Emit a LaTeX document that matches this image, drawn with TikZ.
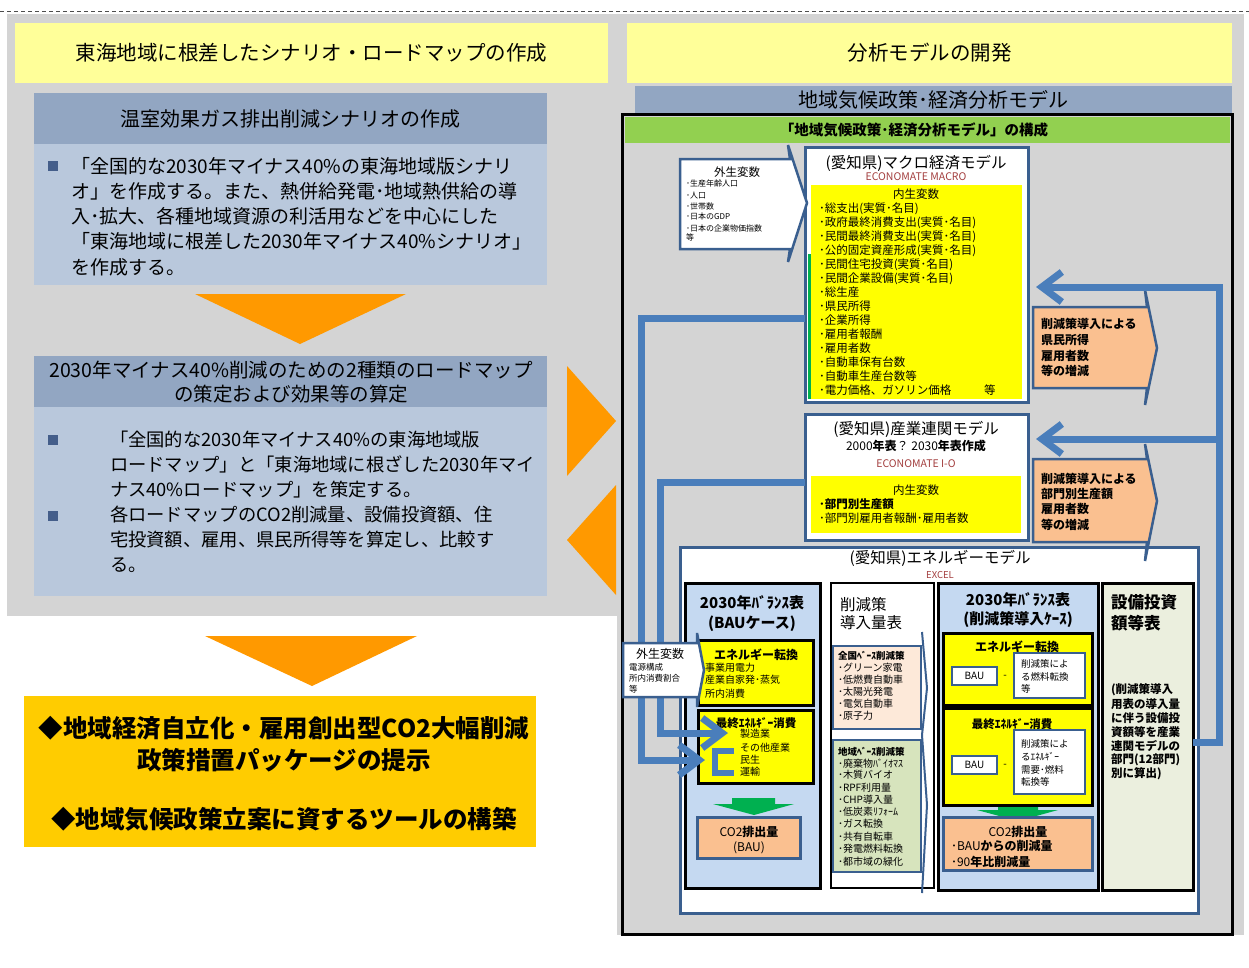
\documentclass[tikz,border=0pt]{standalone}
\usepackage{fontspec}
\setmainfont{Noto Sans CJK JP}
\usetikzlibrary{arrows.meta}
\definecolor{bgray}{RGB}{212,212,212}
\definecolor{ltyellow}{RGB}{255,255,153}
\definecolor{hdblue}{RGB}{146,166,194}
\definecolor{bdblue}{RGB}{185,200,220}
\definecolor{bulletblue}{RGB}{68,94,138}
\definecolor{orng}{RGB}{255,153,0}
\definecolor{gold}{RGB}{255,204,0}
\definecolor{dkblue}{RGB}{58,95,143}
\definecolor{connblue}{RGB}{74,126,187}
\definecolor{hgreen}{RGB}{146,208,80}
\definecolor{yel}{RGB}{255,255,0}
\definecolor{gline}{RGB}{0,176,80}
\definecolor{peach}{RGB}{250,192,144}
\definecolor{redbrown}{RGB}{163,62,62}
\definecolor{ltblueb}{RGB}{197,217,241}
\definecolor{ltpeach}{RGB}{253,233,217}
\definecolor{ltgreenb}{RGB}{215,228,189}
\definecolor{cream}{RGB}{235,239,222}
\newcounter{tn}
\newcommand\fsz[1]{\fontsize{#1}{#1}\selectfont\rule[-0.12em]{0pt}{1em}}
\newcommand\mybox[7]{\node[bx,#6,minimum width={#3-#1},minimum height={#4-#2}] (#5) at ({(#1+#3)/2},{(#2+#4)/2}) {#7};}
\newcommand\tx[4][]{\stepcounter{tn}\node[tx,anchor=west,#1] (t\arabic{tn}) at (#2,#3) {#4};}
\begin{document}
\begin{tikzpicture}[x=1pt,y=-1pt,
  bx/.style={inner sep=0pt,outer sep=0pt},
  tx/.style={inner sep=0pt,outer sep=0pt},
  conn/.style={draw=connblue,line width=7pt},
  arr/.style={-{Straight Barb[length=20pt,width=30pt]}},
  bluebox/.style={fill=white,draw=dkblue,line width=3pt},
  blackbox/.style={draw=black,line width=3pt},
  ybox/.style={fill=yel,draw=black,line width=3pt},
  co2box/.style={fill=peach,draw=dkblue,line width=3pt},
  wbox/.style={fill=white,draw=dkblue,line width=2pt},
  sq/.style={fill=bulletblue,minimum size=10pt,inner sep=0pt}]
\useasboundingbox (0,0) rectangle (1249,967);
\fill[white] (0,0) rectangle (1249,967);
\draw[gray!60!black,line width=0.8pt,dash pattern=on 4pt off 3pt] (0,11) -- (1249,11);
% gray panels
\mybox{7}{14}{617}{616}{pL}{fill=bgray}{}
\mybox{617}{14}{1244}{935}{pR}{fill=bgray}{}
% headers
\mybox{15}{23}{608}{83}{hL}{fill=ltyellow,font=\fsz{20.5}}{東海地域に根差したシナリオ・ロードマップの作成}
\mybox{627}{23}{1232}{83}{hR}{fill=ltyellow,font=\fsz{20.5}}{分析モデルの開発}
% left block 1
\mybox{34}{93}{547}{144}{s1h}{fill=hdblue,font=\fsz{20}}{温室効果ガス排出削減シナリオの作成}
\mybox{34}{144}{547}{285}{s1b}{fill=bdblue}{}
\node[sq] (q1) at (53,166) {};
\foreach \s [count=\i] in {{「全国的な2030年マイナス40\%の東海地域版シナリ},{オ」を作成する。また、熱併給発電･地域熱供給の導},{入･拡大、各種地域資源の利活用などを中心にした},{「東海地域に根差した2030年マイナス40\%シナリオ」},{を作成する。}}
  \node[tx,anchor=west,font=\fsz{19}] (pa\i) at (71,{166+25.2*(\i-1)}) {\s};
\fill[orng] (195,294) -- (406,294) -- (300,344) -- cycle;
% left block 2
\mybox{34}{356}{547}{407}{s2h}{fill=hdblue}{}
\tx[anchor=center,font=\fsz{19.5}]{291}{370}{2030年マイナス40\%削減のための2種類のロードマップ}
\tx[anchor=center,font=\fsz{19.5}]{291}{394}{の策定および効果等の算定}
\mybox{34}{407}{547}{596}{s2b}{fill=bdblue}{}
\node[sq] (q2) at (53,440) {};
\node[sq] (q3) at (53,516) {};
\foreach \s [count=\i] in {{「全国的な2030年マイナス40\%の東海地域版},{ロードマップ」と「東海地域に根ざした2030年マイ},{ナス40\%ロードマップ」を策定する。},{各ロードマップのCO2削減量、設備投資額、住},{宅投資額、雇用、県民所得等を算定し、比較す},{る。}}
  \node[tx,anchor=west,font=\fsz{18.3}] (pb\i) at (110,{440+25*(\i-1)}) {\s};
\fill[orng] (567,366) -- (616,421) -- (567,476) -- cycle;
\fill[orng] (616,485) -- (567,540) -- (616,595) -- cycle;
\fill[orng] (205,636) -- (417,636) -- (312,686) -- cycle;
\mybox{24}{696}{536}{847}{goal}{fill=gold}{}
\tx[anchor=center,font=\bfseries\fsz{24.5}]{284}{728}{◆地域経済自立化・雇用創出型CO2大幅削減}
\tx[anchor=center,font=\bfseries\fsz{24.5}]{284}{760}{政策措置パッケージの提示}
\tx[anchor=center,font=\bfseries\fsz{24.5}]{284}{819}{◆地域気候政策立案に資するツールの構築}
% right panel
\mybox{635}{86}{1232}{113}{mhdr}{fill=hdblue,font=\fsz{20}}{地域気候政策･経済分析モデル}
\mybox{622}{114}{1232}{934}{frame}{blackbox}{}
\mybox{625}{117}{1230}{143}{ghdr}{fill=hgreen}{}
\tx[anchor=center,font=\bfseries\fsz{14.5}]{914}{130}{「地域気候政策･経済分析モデル」の構成}
% macro model
\mybox{805}{147}{1028}{402}{macro}{bluebox}{}
\mybox{811}{185}{1022}{399}{macroy}{fill=yel}{}
\draw[gline,line width=3pt] (809.5,254) -- (809.5,399);
\tx[anchor=center,font=\fsz{15.5}]{916}{163}{(愛知県)マクロ経済モデル}
\tx[anchor=center,font=\fsz{10.5},text=redbrown]{916}{177}{ECONOMATE MACRO}
\tx[anchor=center,font=\fsz{11.5}]{916}{194}{内生変数}
\foreach \s [count=\i] in {{･総支出(実質･名目)},{･政府最終消費支出(実質･名目)},{･民間最終消費支出(実質･名目)},{･公的固定資産形成(実質･名目)},{･民間住宅投資(実質･名目)},{･民間企業設備(実質･名目)},{･総生産},{･県民所得},{･企業所得},{･雇用者報酬},{･雇用者数},{･自動車保有台数},{･自動車生産台数等},{･電力価格、ガソリン価格}}
  \node[tx,anchor=west,font=\fsz{11.5}] (mi\i) at (819,{209+13.92*(\i-1)}) {\s};
\tx[font=\fsz{11.5}]{984}{390}{等}
% exogenous 1
\draw[dkblue,line width=2.5pt,fill=white] (680,159) -- (790,159) -- (788,145) -- (807,203) -- (788,262) -- (790,249) -- (680,249) -- cycle;
\tx[anchor=center,font=\fsz{11.5}]{737}{172}{外生変数}
\foreach \s/\yy [count=\i] in {{･生産年齢人口}/183,{･人口}/195,{･世帯数}/206,{･日本のGDP}/216,{･日本の企業物価指数}/228,{等}/237}
  \node[tx,anchor=west,font=\fsz{8}] (ex\i) at (686,\yy) {\s};
% IO model
\mybox{805}{414}{1028}{540}{io}{bluebox}{}
\mybox{811}{476}{1021}{533}{ioy}{fill=yel}{}
\tx[anchor=center,font=\fsz{15.5}]{916}{429}{(愛知県)産業連関モデル}
\tx[anchor=center,font=\fsz{12}]{916}{446}{2000{\bfseries 年表}？ 2030{\bfseries 年表作成}}
\tx[anchor=center,font=\fsz{10.5},text=redbrown]{916}{463}{ECONOMATE I-O}
\tx[anchor=center,font=\fsz{11.5}]{916}{490}{内生変数}
\tx[font=\bfseries\fsz{11.5}]{819}{504}{･部門別生産額}
\tx[font=\fsz{11.5}]{819}{518}{･部門別雇用者報酬･雇用者数}
% energy model
\mybox{680}{547}{1198}{913}{energy}{bluebox}{}
\tx[anchor=center,font=\fsz{15.5}]{940}{558}{(愛知県)エネルギーモデル}
\tx[anchor=center,font=\fsz{9.5},text=redbrown]{940}{575}{EXCEL}
% column A
\mybox{685}{583}{820}{888}{colA}{fill=ltblueb,blackbox}{}
\tx[anchor=center,font=\bfseries\fsz{15}]{752}{603}{2030年ﾊﾞﾗﾝｽ表}
\tx[anchor=center,font=\bfseries\fsz{15}]{752}{623}{(BAUケース)}
\mybox{698}{640}{813}{705}{convA}{ybox}{}
\tx[anchor=center,font=\bfseries\fsz{12}]{756}{655}{エネルギー転換}
\tx[font=\fsz{10}]{705}{668}{事業用電力}
\tx[font=\fsz{10}]{705}{680}{産業自家発･蒸気}
\tx[font=\fsz{10}]{705}{694}{所内消費}
\fill[gline] (732,798) -- (775,798) -- (775,804) -- (794,804) -- (754,815) -- (713,804) -- (732,804) -- cycle;
\mybox{698}{710}{813}{783}{finA}{ybox}{}
\tx[anchor=center,font=\bfseries\fsz{11.5}]{756}{723}{最終ｴﾈﾙｷﾞｰ消費}
\tx[font=\fsz{10}]{740}{734}{製造業}
\tx[font=\fsz{10}]{740}{748}{その他産業}
\tx[font=\fsz{10}]{740}{760}{民生}
\tx[font=\fsz{10}]{740}{772}{運輸}
\mybox{697}{817}{800}{858}{co2A}{co2box}{}
\tx[anchor=center,font=\fsz{12}]{749}{832}{CO2{\bfseries 排出量}}
\tx[anchor=center,font=\fsz{12}]{749}{847}{(BAU)}
% column B
\mybox{831}{583}{934}{888}{colB}{fill=white,draw=black,line width=2.5pt}{}
\tx[font=\fsz{15.5}]{840}{605}{削減策}
\tx[font=\fsz{15.5}]{840}{623}{導入量表}
\mybox{833}{646}{921}{729}{natB}{fill=ltpeach,draw=dkblue,line width=1.5pt}{}
\tx[font=\bfseries\fsz{9.5}]{838}{656}{全国ﾍﾞｰｽ削減策}
\foreach \s [count=\i] in {{･グリーン家電},{･低燃費自動車},{･太陽光発電},{･電気自動車},{･原子力}}
  \node[tx,anchor=west,font=\fsz{10}] (nb\i) at (838,{668+12*(\i-1)}) {\s};
\mybox{833}{740}{921}{872}{locB}{fill=ltgreenb,draw=dkblue,line width=1.5pt}{}
\tx[font=\bfseries\fsz{9.5}]{838}{752}{地域ﾍﾞｰｽ削減策}
\foreach \s/\yy [count=\i] in {{･廃棄物ﾊﾞｲｵﾏｽ}/764,{･木質バイオ}/775,{･RPF利用量}/788,{･CHP導入量}/800,{･低炭素ﾘﾌｫｰﾑ}/812,{･ガス転換}/824,{･共有自転車}/837,{･発電燃料転換}/849,{･都市域の緑化}/862}
  \node[tx,anchor=west,font=\fsz{10}] (lb\i) at (838,\yy) {\s};
\draw[dkblue,line width=2pt] (922,632) -- (927,688) -- (922,735) -- (927,805) -- (922,893);
% column C
\mybox{938}{583}{1098}{890}{colC}{fill=ltblueb,blackbox}{}
\tx[anchor=center,font=\bfseries\fsz{15}]{1018}{600}{2030年ﾊﾞﾗﾝｽ表}
\tx[anchor=center,font=\bfseries\fsz{15}]{1018}{619}{(削減策導入ｹｰｽ)}
\mybox{943}{633}{1092}{705}{convC}{ybox}{}
\tx[anchor=center,font=\bfseries\fsz{12}]{1017}{647}{エネルギー転換}
\mybox{952}{667}{997}{685}{bau1}{wbox,font=\fsz{10}}{BAU}
\tx[anchor=center,font=\fsz{10}]{1005}{675}{-}
\mybox{1014}{653}{1085}{698}{w1}{wbox}{}
\tx[font=\fsz{9.5}]{1021}{664}{削減策によ}
\tx[font=\fsz{9.5}]{1021}{677}{る燃料転換}
\tx[font=\fsz{9.5}]{1021}{689}{等}
\fill[gline] (998,804) -- (1038,804) -- (1038,810) -- (1058,810) -- (1018,821) -- (977,810) -- (998,810) -- cycle;
\mybox{943}{708}{1092}{805}{finC}{ybox}{}
\tx[anchor=center,font=\bfseries\fsz{11.5}]{1012}{724}{最終ｴﾈﾙｷﾞｰ消費}
\mybox{952}{756}{997}{774}{bau2}{wbox,font=\fsz{10}}{BAU}
\tx[anchor=center,font=\fsz{10}]{1005}{764}{-}
\mybox{1014}{730}{1085}{794}{w2}{wbox}{}
\tx[font=\fsz{9.5}]{1021}{744}{削減策によ}
\tx[font=\fsz{9.5}]{1021}{757}{るｴﾈﾙｷﾞｰ}
\tx[font=\fsz{9.5}]{1021}{770}{需要･燃料}
\tx[font=\fsz{9.5}]{1021}{782}{転換等}
\mybox{943}{817}{1092}{870}{co2C}{co2box}{}
\tx[anchor=center,font=\fsz{12}]{1018}{832}{CO2{\bfseries 排出量}}
\tx[font=\fsz{12}]{951}{846}{･BAU{\bfseries からの削減量}}
\tx[font=\fsz{12}]{951}{862}{･90{\bfseries 年比削減量}}
% column D
\mybox{1102}{583}{1193}{890}{inv}{fill=cream,blackbox}{}
\tx[font=\bfseries\fsz{16.5}]{1111}{602}{設備投資}
\tx[font=\bfseries\fsz{16.5}]{1111}{623}{額等表}
\foreach \s [count=\i] in {{(削減策導入},{用表の導入量},{に伴う設備投},{資額等を産業},{連関モデルの},{部門(12部門)},{別に算出)}}
  \node[tx,anchor=west,font=\bfseries\fsz{11.5}] (iv\i) at (1111,{690+14*(\i-1)}) {\s};
% callouts
\draw[dkblue,line width=2.5pt,fill=peach] (1033,307) -- (1147,307) -- (1145,290) -- (1157,348) -- (1145,405) -- (1147,388) -- (1033,388) -- cycle;
\foreach \s/\yy [count=\i] in {{削減策導入による}/324,{県民所得}/340,{雇用者数}/356,{等の増減}/371}
  \node[tx,anchor=west,font=\bfseries\fsz{12}] (ca\i) at (1041,\yy) {\s};
\draw[dkblue,line width=2.5pt,fill=peach] (1033,459) -- (1147,459) -- (1145,444) -- (1157,501) -- (1145,561) -- (1147,542) -- (1033,542) -- cycle;
\foreach \s/\yy [count=\i] in {{削減策導入による}/479,{部門別生産額}/494,{雇用者数}/509,{等の増減}/525}
  \node[tx,anchor=west,font=\bfseries\fsz{12}] (cb\i) at (1041,\yy) {\s};
% connectors
\coordinate (rv1) at (1219,287);
\coordinate (rv2) at (1219,439);
\coordinate (rv3) at (1219,742);
\draw[conn,arr,shorten >=8pt] (inv.east |- rv3) -- (rv3) -- (rv1) -- (macro.east |- rv1);
\draw[conn,arr,shorten >=8pt] (rv2) -- (io.east |- rv2);
\coordinate (lv1) at (641,318);
\coordinate (lv2) at (660,482);
\coordinate (a1) at (728,733);
\coordinate (a2) at (705,760);
\draw[conn,arr] (macro.west |- lv1) -| (lv1 |- a2) -- (a2);
\draw[conn,arr] (io.west |- lv2) -| (lv2 |- a1) -- (a1);
\draw[conn,line width=6pt] (734,751) -| (715,773) -- (734,773);
% exogenous 2
\draw[dkblue,line width=2.5pt,fill=white] (623,643) -- (697,643) -- (697,633) -- (704,670) -- (697,707) -- (697,697) -- (623,697) -- cycle;
\tx[anchor=center,font=\fsz{12}]{660}{654}{外生変数}
\tx[font=\fsz{8.5}]{629}{667}{電源構成}
\tx[font=\fsz{8.5}]{629}{678}{所内消費割合}
\tx[font=\fsz{8.5}]{629}{689}{等}
\end{tikzpicture}
\end{document}
